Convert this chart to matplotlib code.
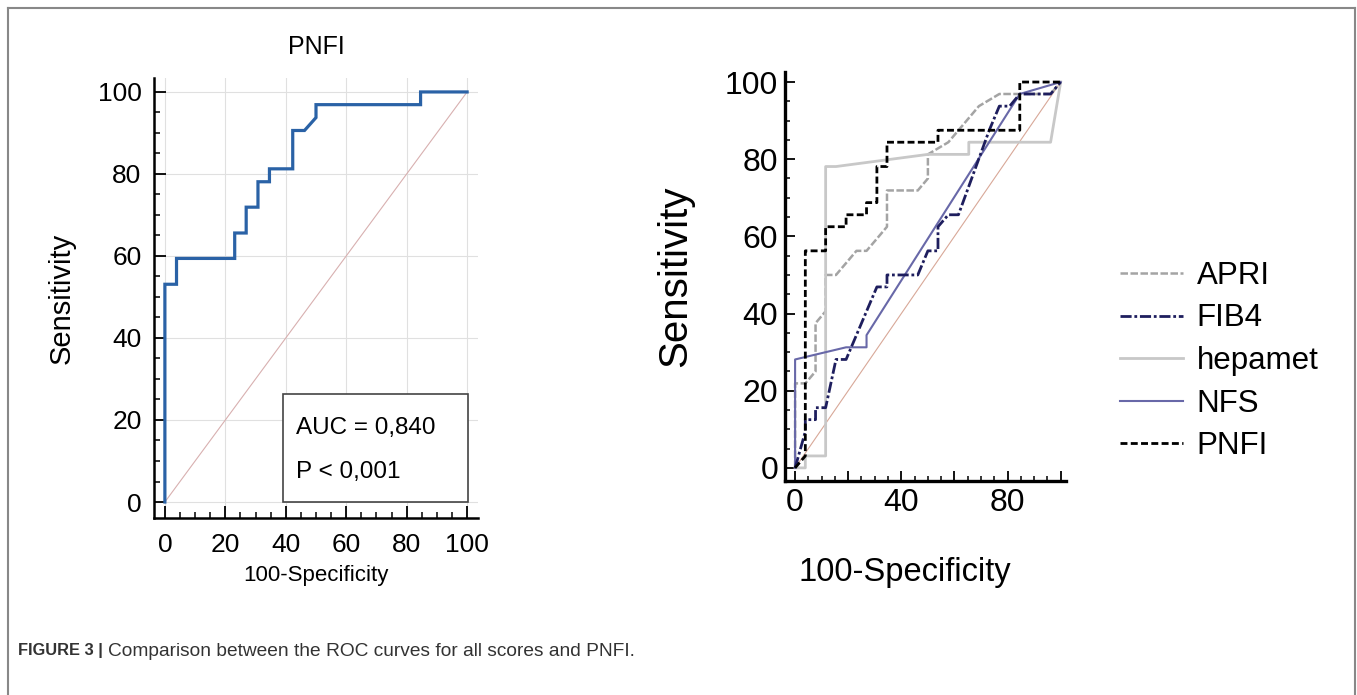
import numpy as np
import matplotlib
matplotlib.use('Agg')
import matplotlib.pyplot as plt
from matplotlib.lines import Line2D
from matplotlib.patches import Rectangle
from matplotlib.ticker import MultipleLocator, FixedLocator

plt.rcParams['font.family'] = ['Liberation Sans', 'DejaVu Sans']

# ---- data ----
# left panel: PNFI ROC curve
pnfi_fpr = [0, 0, 3.85, 3.85, 23.1, 23.1, 26.9, 26.9, 30.8, 30.8, 34.6, 34.6,
            42.3, 42.3, 46.2, 50.0, 50.0, 84.6, 84.6, 100]
pnfi_tpr = [0, 53.1, 53.1, 59.4, 59.4, 65.6, 65.6, 71.9, 71.9, 78.1, 78.1, 81.25,
            81.25, 90.6, 90.6, 93.75, 96.9, 96.9, 100, 100]
auc_text = 'AUC = 0,840'
p_text = 'P < 0,001'

# right panel: all scores
apri_fpr = [0, 0, 3.85, 7.7, 7.7, 11.5, 11.5, 15.4, 23.1, 26.9, 30.8, 34.6, 34.6,
            46.2, 50.0, 50.0, 57.7, 69.2, 76.9, 96.2, 100]
apri_tpr = [0, 21.9, 21.9, 25.0, 37.5, 40.6, 50.0, 50.0, 56.25, 56.25, 59.4, 62.5,
            71.9, 71.9, 75.0, 81.25, 84.4, 93.75, 96.9, 96.9, 100]

fib4_fpr = [0, 3.85, 3.85, 7.7, 7.7, 11.5, 15.4, 19.2, 30.8, 34.6, 34.6, 46.2, 50.0,
            53.8, 53.8, 57.7, 61.5, 73.1, 76.9, 80.8, 84.6, 96.2, 100]
fib4_tpr = [0, 9.4, 12.5, 12.5, 15.6, 15.6, 28.1, 28.1, 46.9, 46.9, 50.0, 50.0, 56.25,
            56.25, 62.5, 65.6, 65.6, 87.5, 93.75, 93.75, 96.9, 96.9, 100]

hepamet_fpr = [0, 3.85, 3.85, 11.5, 11.5, 15.4, 50.0, 65.4, 65.4, 96.2, 100]
hepamet_tpr = [0, 0, 3.1, 3.1, 78.1, 78.1, 81.25, 81.25, 84.4, 84.4, 100]

nfs_fpr = [0, 0, 19.2, 26.9, 26.9, 84.6, 100]
nfs_tpr = [0, 28.1, 31.25, 31.25, 34.4, 96.9, 100]

pnfi2_fpr = [0, 3.85, 3.85, 11.5, 11.5, 19.2, 19.2, 26.9, 26.9, 30.8, 30.8, 34.6,
             34.6, 53.8, 53.8, 84.6, 84.6, 100]
pnfi2_tpr = [0, 3.1, 56.25, 56.25, 62.5, 62.5, 65.6, 65.6, 68.75, 68.75, 78.1, 78.1,
             84.4, 84.4, 87.5, 87.5, 100, 100]

series_names = ['APRI', 'FIB4', 'hepamet', 'NFS', 'PNFI']
caption_bold = 'FIGURE 3 |'
caption_text = 'Comparison between the ROC curves for all scores and PNFI.'

# ---- figure ----
W, H = 1357, 695
fig = plt.figure(figsize=(W / 100, H / 100), dpi=100)


def px(x, y):
    return x / W, 1 - y / H


def style_axes(ax, lw, major_len, minor_len, size, pad):
    for s in ['top', 'right']:
        ax.spines[s].set_visible(False)
    for s in ['left', 'bottom']:
        ax.spines[s].set_linewidth(lw)
    ax.tick_params(which='major', direction='in', length=major_len, width=1.3,
                   labelsize=size, pad=pad)
    ax.tick_params(which='minor', direction='in', length=minor_len, width=1.1)
    ax.xaxis.set_minor_locator(MultipleLocator(5))
    ax.yaxis.set_minor_locator(MultipleLocator(5))


# left panel
ax1 = fig.add_axes([154 / W, 1 - 518 / H, 324 / W, 440 / H])
ax1.set_xlim(-3.6, 103.6)
ax1.set_ylim(-3.9, 103.4)
ax1.xaxis.set_major_locator(FixedLocator([0, 20, 40, 60, 80, 100]))
ax1.yaxis.set_major_locator(FixedLocator([0, 20, 40, 60, 80, 100]))
style_axes(ax1, 1.8, 8.5, 4.5, 19, 9)
ax1.tick_params(axis='x', which='major', pad=11)
ax1.grid(True, which='major', color='#e0e0e0', lw=0.8)
ax1.set_axisbelow(True)
ax1.plot([0, 100], [0, 100], color='#d8b0b0', lw=0.8)
ax1.plot(pnfi_fpr, pnfi_tpr, color='#2a62a6', lw=2.3, solid_joinstyle='miter')
ax1.add_patch(Rectangle((39.1, 0), 61.2, 26.3, fill=True, facecolor='white',
                        edgecolor='#444444', lw=1.2, zorder=3))
ax1.text(43.4, 18, auc_text, fontsize=17.5, va='center', zorder=4)
ax1.text(43.4, 7.3, p_text, fontsize=17.5, va='center', zorder=4)

fig.text(*px(316, 47), 'PNFI', ha='center', va='center', fontsize=18)
fig.text(*px(316, 575), '100-Specificity', ha='center', va='center', fontsize=16)
fig.text(*px(62, 298), 'Sensitivity', ha='center', va='center', rotation=90,
         fontsize=21)

# right panel
ax2 = fig.add_axes([785 / W, 1 - 481 / H, 281 / W, 409 / H])
ax2.set_xlim(-3.8, 102)
ax2.set_ylim(-3.4, 102.6)
ax2.xaxis.set_major_locator(FixedLocator([0, 20, 40, 60, 80, 100]))
ax2.yaxis.set_major_locator(FixedLocator([0, 20, 40, 60, 80, 100]))
style_axes(ax2, 2.4, 7.5, 3.5, 23, 5)
ax2.set_xticklabels(['0', '', '40', '', '80', ''])
ax2.plot([0, 100], [0, 100], color='#d8a898', lw=0.8)
h_apri, = ax2.plot(apri_fpr, apri_tpr, color='#a4a4a4', lw=1.8, ls=(0, (3, 1)))
h_hep, = ax2.plot(hepamet_fpr, hepamet_tpr, color='#c8c8c8', lw=2.0)
h_nfs, = ax2.plot(nfs_fpr, nfs_tpr, color='#6868a8', lw=1.5)
h_fib, = ax2.plot(fib4_fpr, fib4_tpr, color='#1e1e5e', lw=2.0, ls=(0, (4, 1, 1, 1)))
h_pnfi, = ax2.plot(pnfi2_fpr, pnfi2_tpr, color='black', lw=2.0, ls=(0, (2.5, 1.2)))

fig.legend([h_apri, h_fib, h_hep, h_nfs, h_pnfi], series_names,
           loc='center left', bbox_to_anchor=px(1120, 361), frameon=False,
           fontsize=22.5, handlelength=2.0, handletextpad=0.45, labelspacing=0.4,
           borderaxespad=0, borderpad=0)

fig.text(*px(905, 572), '100-Specificity', ha='center', va='center', fontsize=23.5)
fig.text(*px(675, 276), 'Sensitivity', ha='center', va='center', rotation=90,
         fontsize=29)

# border and caption
border = dict(color='#888888', lw=1.5, transform=fig.transFigure)
fig.add_artist(Line2D([8 / W, 1355 / W], [1 - 8 / H] * 2, **border))
fig.add_artist(Line2D([8 / W] * 2, [0, 1 - 8 / H], **border))
fig.add_artist(Line2D([1355 / W] * 2, [0, 1 - 8 / H], **border))
fig.text(*px(18, 651), caption_bold, fontsize=11.8, weight='bold', va='center',
         color='#333333')
fig.text(*px(108, 651), caption_text, fontsize=13.8, va='center',
         color='#333333')

fig.savefig('out.png', dpi=100)
